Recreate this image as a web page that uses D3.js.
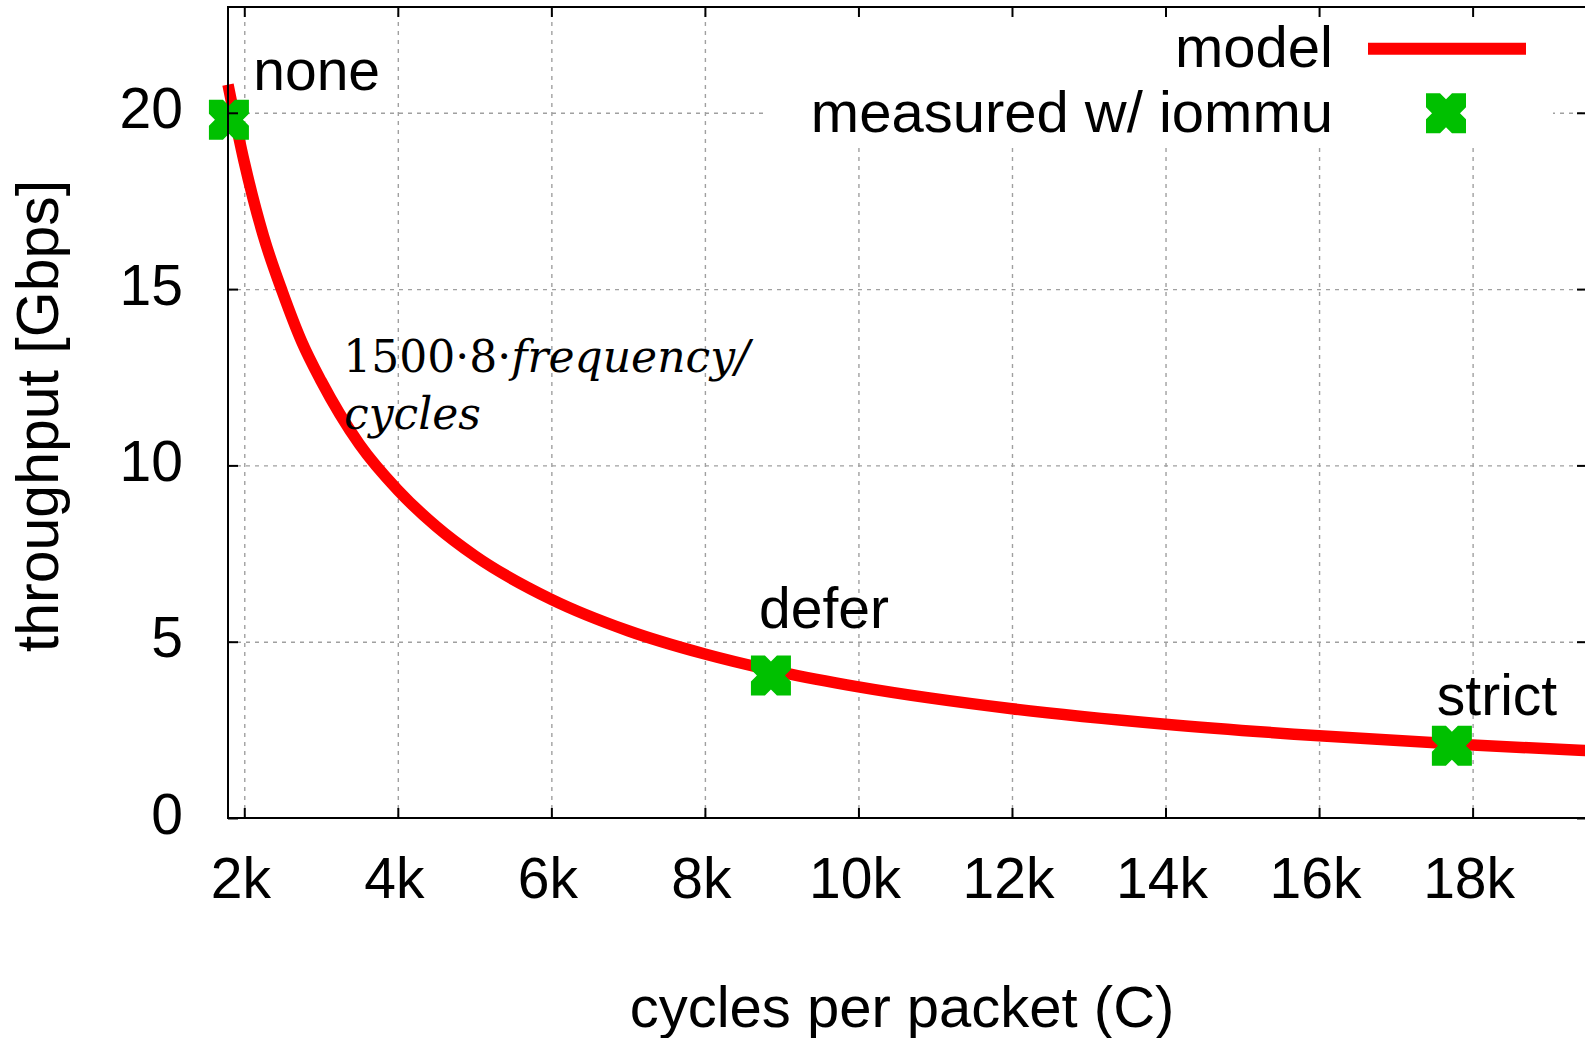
<!DOCTYPE html>
<html>
<head>
<meta charset="utf-8">
<script src="https://cdn.jsdelivr.net/npm/d3@7"></script>
<style>
  html, body { margin: 0; padding: 0; background: #fff; overflow: hidden; }
  text { font-family: "Liberation Sans", Arial, sans-serif; fill: #000; }
  .grid line { stroke: #a0a0a0; stroke-width: 1.4; stroke-dasharray: 4,5; }
  .grid .domain { display: none; }
</style>
</head>
<body>
<svg id="chart" width="1585" height="1038"></svg>
<script>
// model curve (cycles -> Gbps)
const modelCycles = [1788, 2000, 2250, 2500, 2750, 3000, 3500, 4000, 4500, 5000, 6000, 7000, 8000, 9000, 10000, 12000, 14000, 16000, 18000, 19490]
const modelGbps   = [20.8, 18.6, 16.5, 14.9, 13.5, 12.4, 10.6, 9.3, 8.27, 7.44, 6.2, 5.31, 4.65, 4.13, 3.72, 3.1, 2.66, 2.33, 2.07, 1.91]

// measured points
const measNames  = ['none', 'defer', 'strict']
const measCycles = [1800, 8860, 17730]
const measGbps   = [19.8, 4.04, 2.05]

// point labels (data coords)
const labelX = [2117, 8706, 17534]
const labelY = [20.65, 5.39, 2.92]

const xTicks = [2000, 4000, 6000, 8000, 10000, 12000, 14000, 16000, 18000]
const yTicks = [0, 5, 10, 15, 20]

const xLabel = 'cycles per packet (C)'
const yLabel = 'throughput [Gbps]'
const legendNames = ['model', 'measured w/ iommu']

const W = 1585, H = 1038
const pL = 228, pR = 1587, pT = 7, pB = 818

const x = d3.scaleLinear().domain([1788, 19490]).range([pL, pR])
const y = d3.scaleLinear().domain([0, 23]).range([pB, pT])

const svg = d3.select('#chart')
const fs = 57

// grid
svg.append('g').attr('class', 'grid')
    .attr('transform', `translate(0,${pB})`)
    .call(d3.axisBottom(x).tickValues(xTicks).tickSize(-(pB - pT)).tickFormat(''))
svg.append('g').attr('class', 'grid')
    .attr('transform', `translate(${pL},0)`)
    .call(d3.axisLeft(y).tickValues(yTicks.filter(d => d > 0)).tickSize(-(pR - pL)).tickFormat(''))

// legend background hides grid
svg.append('rect')
    .attr('x', 768).attr('y', pT + 1)
    .attr('width', 785).attr('height', 138)
    .attr('fill', '#fff')

// model line
const line = d3.line()
    .x(d => x(d[0]))
    .y(d => y(d[1]))
    .curve(d3.curveMonotoneX)
svg.append('path')
    .datum(modelCycles.map((c, i) => [c, modelGbps[i]]))
    .attr('d', line)
    .attr('fill', 'none')
    .attr('stroke', '#ff0000')
    .attr('stroke-width', 11.5)

// marker shape: thick cross looks like a notched square
const s = 20, n = 6, dd = 6
const markerPath = `M${-s},${-s}L${-n},${-s}L0,${-s + dd}L${n},${-s}L${s},${-s}` +
    `L${s},${-n}L${s - dd},0L${s},${n}L${s},${s}` +
    `L${n},${s}L0,${s - dd}L${-n},${s}L${-s},${s}` +
    `L${-s},${n}L${-s + dd},0L${-s},${-n}Z`

svg.append('g').selectAll('path')
    .data(measNames)
    .join('path')
    .attr('d', markerPath)
    .attr('transform', (k, i) => `translate(${x(measCycles[i])},${y(measGbps[i])})`)
    .attr('fill', '#00c000')

// point labels
svg.append('g').selectAll('text')
    .data(measNames)
    .join('text')
    .attr('x', (k, i) => x(labelX[i]))
    .attr('y', (k, i) => y(labelY[i]))
    .attr('font-size', fs)
    .text(k => k)

// formula annotation
const formula = svg.append('text')
    .attr('x', x(3290)).attr('y', y(12.65))
    .attr('font-size', 44)
    .style('font-family', '"DejaVu Serif", serif')
formula.append('tspan').text('1500·8·')
formula.append('tspan').attr('font-style', 'italic').text('frequency/')
svg.append('text')
    .attr('x', x(3300)).attr('y', y(11.03))
    .attr('font-size', 44)
    .attr('font-style', 'italic')
    .style('font-family', '"DejaVu Serif", serif')
    .text('cycles')

// border
svg.append('path')
    .attr('d', `M${pL},${pT}H${pR}V${pB}H${pL}Z`)
    .attr('fill', 'none')
    .attr('stroke', '#000')
    .attr('stroke-width', 2)

// ticks, all four sides pointing inward
const tk = 10
const xAxis = svg.append('g')
    .attr('transform', `translate(0,${pB})`)
    .call(d3.axisBottom(x).tickValues(xTicks).tickSize(-tk).tickFormat(v => v / 1000 + 'k'))
xAxis.selectAll('text').attr('x', -4).attr('y', 80).attr('dy', null).attr('font-size', fs)
    .style('font-family', '"Liberation Sans", Arial, sans-serif')

const yAxis = svg.append('g')
    .attr('transform', `translate(${pL},0)`)
    .call(d3.axisLeft(y).tickValues(yTicks).tickSize(-tk))
yAxis.selectAll('text').attr('x', -45).attr('dy', 15).attr('font-size', fs)
    .style('font-family', '"Liberation Sans", Arial, sans-serif')

svg.append('g')
    .attr('transform', `translate(0,${pT})`)
    .call(d3.axisTop(x).tickValues(xTicks).tickSize(-tk).tickFormat(''))
svg.append('g')
    .attr('transform', `translate(${pR},0)`)
    .call(d3.axisRight(y).tickValues(yTicks).tickSize(-tk).tickFormat(''))

svg.selectAll('.domain').filter(function () { return !this.closest('.grid') }).remove()
svg.selectAll('.tick line').filter(function () { return !this.closest('.grid') })
    .attr('stroke', '#000').attr('stroke-width', 2)

// axis titles
svg.append('text')
    .attr('x', 902).attr('y', 1027)
    .attr('text-anchor', 'middle')
    .attr('font-size', 58)
    .text(xLabel)
svg.append('text')
    .attr('transform', 'translate(58,416) rotate(-90)')
    .attr('text-anchor', 'middle')
    .attr('font-size', 59)
    .text(yLabel)

// legend
const legend = svg.append('g')
legend.selectAll('text')
    .data(legendNames)
    .join('text')
    .attr('x', 1333)
    .attr('y', (k, i) => 67 + i * 65)
    .attr('text-anchor', 'end')
    .attr('font-size', 58)
    .text(k => k)
legend.append('line')
    .attr('x1', 1368).attr('x2', 1526)
    .attr('y1', 48.7).attr('y2', 48.7)
    .attr('stroke', '#ff0000').attr('stroke-width', 12)
legend.append('path')
    .attr('d', markerPath)
    .attr('transform', 'translate(1446,113.3)')
    .attr('fill', '#00c000')
</script>
</body>
</html>
